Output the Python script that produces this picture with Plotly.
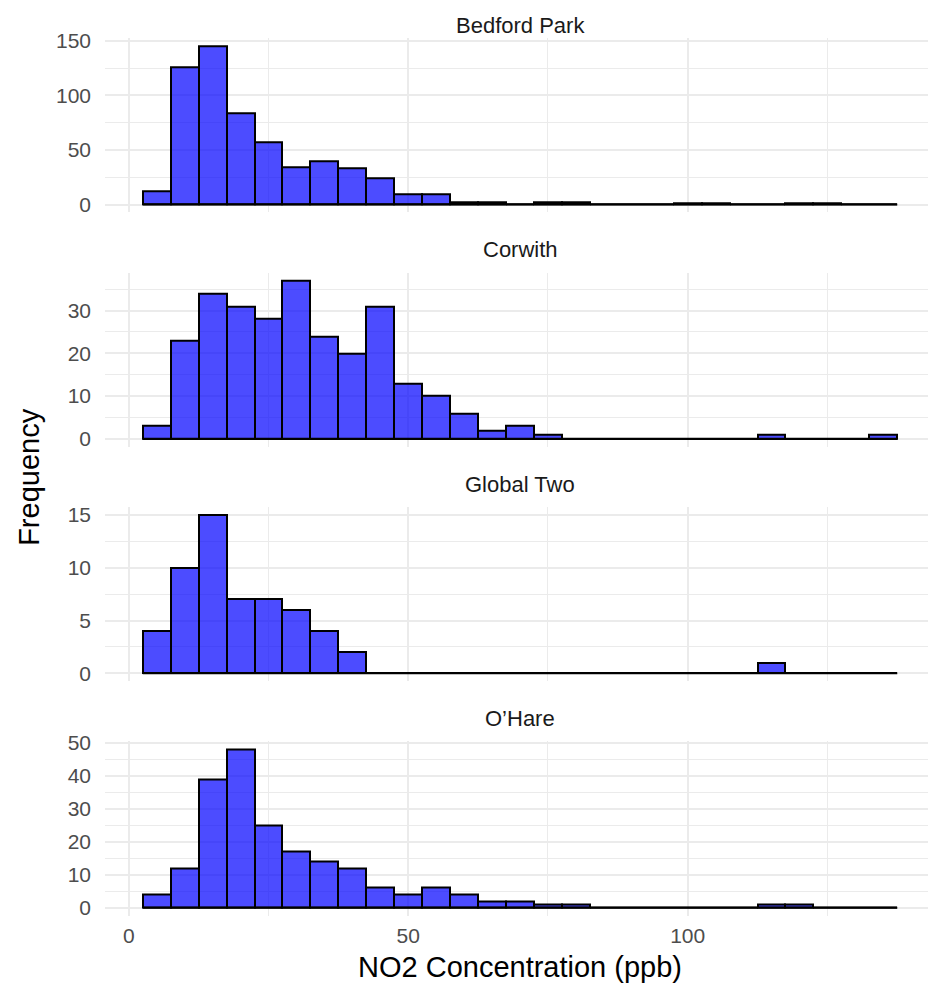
import plotly.graph_objects as go

# ---- data ----
bin_centers = [5, 10, 15, 20, 25, 30, 35, 40, 45, 50, 55, 60, 65, 70, 75, 80,
               85, 90, 95, 100, 105, 110, 115, 120, 125, 130, 135]
bin_width = 5
sites = ["Bedford Park", "Corwith", "Global Two", "O\u2019Hare"]
bedford_park = [12, 126, 145, 84, 57, 34, 40, 33, 24, 9, 9, 2, 2, 0, 2, 2,
                0, 0, 0, 1, 1, 0, 0, 1, 1, 0, 0]
corwith = [3, 23, 34, 31, 28, 37, 24, 20, 31, 13, 10, 6, 2, 3, 1, 0,
           0, 0, 0, 0, 0, 0, 1, 0, 0, 0, 1]
global_two = [4, 10, 15, 7, 7, 6, 4, 2, 0, 0, 0, 0, 0, 0, 0, 0,
              0, 0, 0, 0, 0, 0, 1, 0, 0, 0, 0]
ohare = [4, 12, 39, 48, 25, 17, 14, 12, 6, 4, 6, 4, 2, 2, 1, 1,
         0, 0, 0, 0, 0, 0, 1, 1, 0, 0, 0]
counts = [bedford_park, corwith, global_two, ohare]
y_dticks = [50, 10, 5, 10]
y_minor = [25, 5, 2.5, 5]
x_ticks = [0, 50, 100]
x_minor_ticks = [25, 75, 125]

# page placement of the figure (measured): x_page = x_fig + 8,
# y_page = 17.5 + 0.986 * y_fig
OX, OY, SY = 8, 17.5, 0.986
W, H = 936 - OX, 980
FONT = "Liberation Sans"


def fy(s):
    """target page y -> figure y"""
    return (s - OY) / SY


panel_left, panel_right = 105 - OX, 935 - OX
top_s0, pitch_s, ph_s = 37.8, 234.2, 174.0

fig = go.Figure()

xmin = bin_centers[0] - bin_width / 2
xmax = bin_centers[-1] + bin_width / 2
xpad = (xmax - xmin) * 0.05

for i, (name, vals) in enumerate(zip(sites, counts)):
    n = i + 1
    xa = "x" if n == 1 else f"x{n}"
    ya = "y" if n == 1 else f"y{n}"
    fig.add_trace(go.Bar(
        x=bin_centers, y=vals, width=bin_width, xaxis=xa, yaxis=ya,
        marker=dict(color="rgba(0,0,255,0.7)", line=dict(color="black", width=2)),
        showlegend=False, hoverinfo="x+y"))
    # outline of the empty bins along zero
    fig.add_trace(go.Scatter(
        x=[xmin, xmax], y=[0, 0], mode="lines", xaxis=xa, yaxis=ya,
        line=dict(color="black", width=2), showlegend=False, hoverinfo="skip"))

    top_s = top_s0 + i * pitch_s
    top, bot = fy(top_s), fy(top_s + ph_s)
    ymax = max(vals)
    ydom = [1 - bot / H, 1 - top / H]
    xkey = "xaxis" if n == 1 else f"xaxis{n}"
    ykey = "yaxis" if n == 1 else f"yaxis{n}"
    fig.layout[xkey] = dict(
        domain=[panel_left / W, panel_right / W],
        range=[xmin - xpad, xmax + xpad],
        anchor=ya, matches=None if n == 1 else "x",
        tickmode="array", tickvals=x_ticks,
        showticklabels=(n == 4),
        showgrid=True, gridcolor="#ebebeb", gridwidth=1.8,
        minor=dict(tickmode="array", tickvals=x_minor_ticks, showgrid=True,
                   gridcolor="#ebebeb", gridwidth=1.0),
        zeroline=False, showline=False, ticks="",
        tickfont=dict(family=FONT, size=21, color="#4d4d4d"),
        ticklabelstandoff=5,
    )
    fig.layout[ykey] = dict(
        domain=ydom, anchor=xa,
        range=[-0.05 * ymax, 1.05 * ymax],
        tickmode="linear", tick0=0, dtick=y_dticks[i],
        showgrid=True, gridcolor="#ebebeb", gridwidth=1.8,
        minor=dict(tickmode="linear", tick0=0, dtick=y_minor[i], showgrid=True,
                   gridcolor="#ebebeb", gridwidth=1.0),
        zeroline=False, showline=False, ticks="",
        tickfont=dict(family=FONT, size=21, color="#4d4d4d"),
        ticklabelstandoff=13,
    )
    ty = max(fy(top_s - 23), 8)
    fig.add_annotation(
        text=name, x=(panel_left + panel_right) / 2 / W, y=1 - ty / H,
        xref="paper", yref="paper", showarrow=False, xanchor="center", yanchor="middle",
        font=dict(family=FONT, size=22, color="#1a1a1a"))

fig.add_annotation(
    text="NO2 Concentration (ppb)", x=(panel_left + panel_right) / 2 / W,
    y=1 - fy(965.3) / H,
    xref="paper", yref="paper", showarrow=False, xanchor="center", yanchor="middle",
    font=dict(family=FONT, size=29, color="black"))
fig.add_annotation(
    text="Frequency", x=(29 - OX) / W, y=1 - fy(476) / H, textangle=-90,
    xref="paper", yref="paper", showarrow=False, xanchor="center", yanchor="middle",
    font=dict(family=FONT, size=29, color="black"))

fig.update_layout(
    width=W, height=H, margin=dict(l=0, r=0, t=0, b=0),
    paper_bgcolor="white", plot_bgcolor="white", bargap=0, barmode="overlay",
)

fig.write_html("out.html")
